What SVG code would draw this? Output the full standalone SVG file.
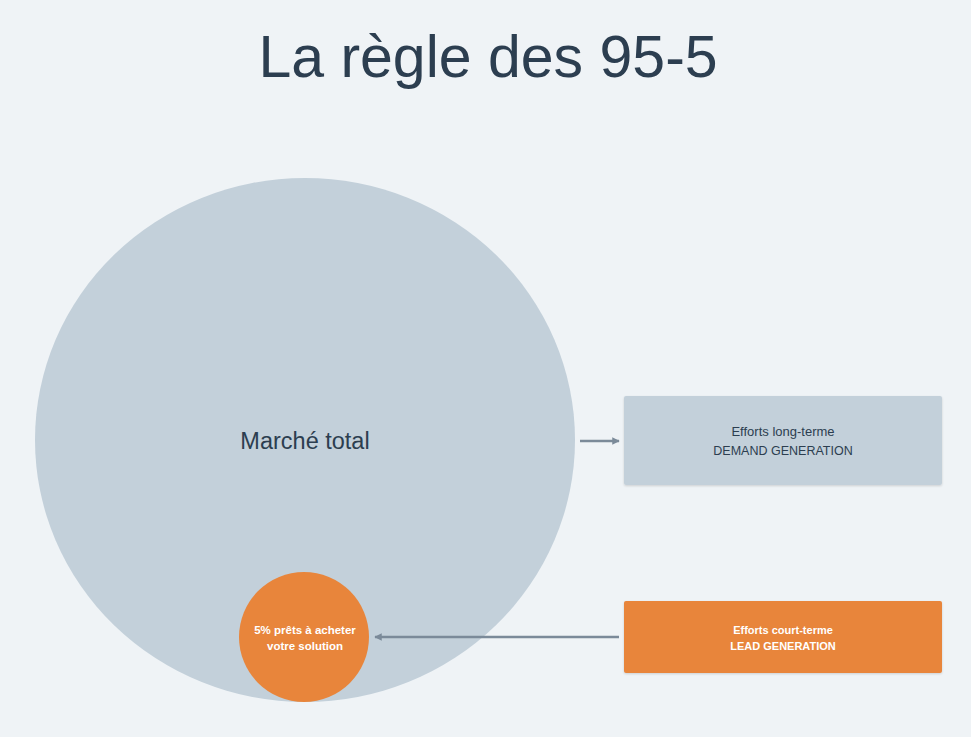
<svg xmlns="http://www.w3.org/2000/svg" width="971" height="737" viewBox="0 0 971 737">
<defs>
<style>
.t{font-family:"Liberation Sans","DejaVu Sans",sans-serif;text-anchor:middle}
.dark{fill:#2c3e50}
.white{fill:#ffffff;font-weight:bold}
.conn{stroke:#7b8a99;stroke-width:2.5;fill:none}
</style>
<marker id="ah" viewBox="0 0 10 10" refX="9" refY="5" markerWidth="3" markerHeight="3" orient="auto-start-reverse">
<path d="M0,0 L10,5 L0,10 z" fill="#7b8a99"/>
</marker>
<filter id="sh" x="-5%" y="-5%" width="110%" height="115%">
<feDropShadow dx="0" dy="1" stdDeviation="1" flood-color="#000" flood-opacity="0.15"/>
</filter>
</defs>
<rect width="971" height="737" fill="#eff3f6"/>
<text class="t dark" x="488" y="77" font-size="59">La règle des 95-5</text>
<g id="marche-total">
<ellipse cx="305" cy="440" rx="270" ry="262" fill="#c3d0da"/>
<text class="t dark" x="305" y="449" font-size="23.5">Marché total</text>
</g>
<g id="cinq-pourcent">
<circle cx="304" cy="637" r="65" fill="#e8853b"/>
<text class="t white" x="305" y="634" font-size="11.5">5% prêts à acheter</text>
<text class="t white" x="305" y="650" font-size="11.5">votre solution</text>
</g>
<g id="demand-gen">
<rect x="624" y="396" width="318" height="89" rx="2" fill="#c3d0da" filter="url(#sh)"/>
<text class="t dark" x="783" y="436" font-size="13">Efforts long-terme</text>
<text class="t dark" x="783" y="455" font-size="12.5">DEMAND GENERATION</text>
</g>
<g id="lead-gen">
<rect x="624" y="601" width="318" height="72" rx="2" fill="#e8853b" filter="url(#sh)"/>
<text class="t white" x="783" y="634" font-size="11">Efforts court-terme</text>
<text class="t white" x="783" y="650" font-size="11">LEAD GENERATION</text>
</g>
<g id="connectors">
<line class="conn" x1="580" y1="441" x2="619" y2="441" marker-end="url(#ah)"/>
<line class="conn" x1="619" y1="637" x2="375" y2="637" marker-end="url(#ah)"/>
</g>
</svg>
